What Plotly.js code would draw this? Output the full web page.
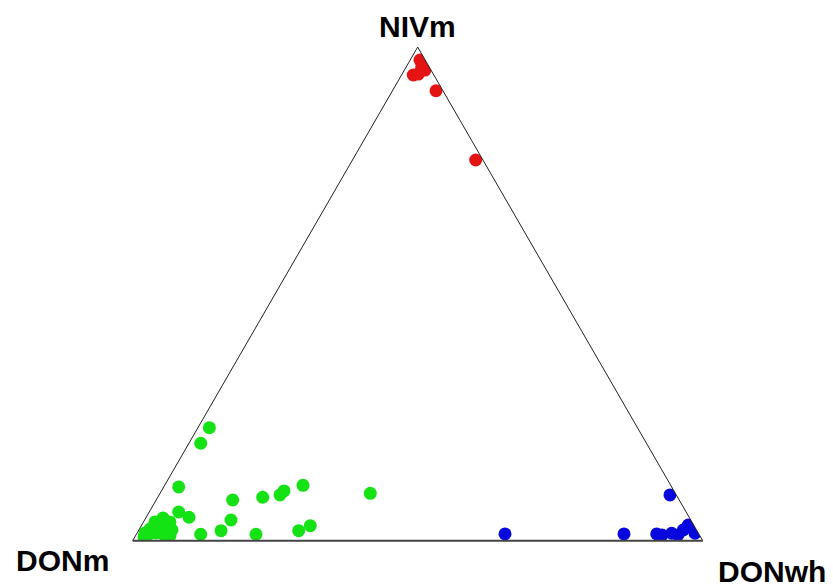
<!DOCTYPE html>
<html>
<head>
<meta charset="utf-8">
<script src="https://cdn.plot.ly/plotly-3.0.1.min.js"></script>
<style>html,body{margin:0;padding:0;background:#fff;}#chart{width:833px;height:587px;}</style>
</head>
<body>
<div id="chart"></div>
<script>
// Axis labels
var labelA = "NIVm";
var labelB = "DONm";
var labelC = "DONwh";

// Group 1 (green, DONm-rich): NIVm, DONm, DONwh fractions
var greenA = [0.2289,0.1973,0.1088,0.0824,0.0879,0.0926,0.1007,0.1122,0.0960,0.0581,0.0474,0.0419,0.0203,0.0130,0.0130,0.0203,0.0304,0.0115,0.0156,0.0115,0.0277,0.0217,0.0237,0.0075,0.0095,0.0460,0.0379,0.0379,0.0217,0.0156];
var greenB = [0.7511,0.7820,0.8649,0.7834,0.7280,0.6953,0.6842,0.6451,0.5352,0.8903,0.8775,0.8066,0.8349,0.8742,0.7772,0.6986,0.6732,0.9675,0.9513,0.9394,0.9418,0.9307,0.9578,0.9764,0.9299,0.9238,0.9157,0.9420,0.9202,0.9706];
var greenC = [0.0200,0.0207,0.0263,0.1342,0.1841,0.2121,0.2151,0.2427,0.3688,0.0516,0.0751,0.1515,0.1448,0.1128,0.2098,0.2811,0.2964,0.0210,0.0331,0.0491,0.0305,0.0476,0.0185,0.0161,0.0606,0.0302,0.0464,0.0201,0.0581,0.0138];

// Group 2 (blue, DONwh-rich)
var blueA = [0.0136,0.0136,0.0926,0.0136,0.0115,0.0150,0.0217,0.0318,0.0150,0.0115];
var blueB = [0.3400,0.1313,0.0111,0.0739,0.0657,0.0469,0.0231,0.0094,0.0060,0.0376];
var blueC = [0.6464,0.8551,0.8963,0.9125,0.9228,0.9381,0.9552,0.9588,0.9790,0.9509];

// Group 3 (red, NIVm-rich)
var redA = [0.9737,0.9601,0.9534,0.9433,0.9453,0.9115,0.7711];
var redB = [0.0091,0.0130,0.0105,0.0361,0.0263,0.0121,0.0127];
var redC = [0.0172,0.0269,0.0361,0.0206,0.0284,0.0764,0.2162];

function grp(a,b,c,color){
  return {type:'scatterternary', mode:'markers', a:a, b:b, c:c,
    marker:{color:color, size:13, line:{width:0}}, hoverinfo:'a+b+c', showlegend:false};
}

var data = [
  grp(greenA, greenB, greenC, '#14e214'),
  grp(blueA, blueB, blueC, '#0808de'),
  grp(redA, redB, redC, '#e41414')
];

var axisBase = {showgrid:false, showticklabels:false, ticks:'', title:{text:''}, min:0};

var layout = {
  width:833, height:587,
  margin:{l:0,r:0,t:0,b:0},
  paper_bgcolor:'#ffffff',
  showlegend:false,
  ternary:{
    sum:1,
    bgcolor:'#ffffff',
    domain:{x:[132.7/833, 702.7/833], y:[(587-540.7)/587, (587-47)/587]},
    aaxis:Object.assign({}, axisBase, {linecolor:'#222', linewidth:1}),
    baxis:Object.assign({}, axisBase, {linecolor:'#444', linewidth:2}),
    caxis:Object.assign({}, axisBase, {linecolor:'#222', linewidth:1})
  },
  font:{family:'Liberation Sans, Arial, sans-serif', color:'#000'},
  annotations:[
    {text:'<b>'+labelA+'</b>', xref:'paper', yref:'paper', x:417/833, y:1-26/587, xanchor:'center', yanchor:'middle', showarrow:false, font:{size:30, color:'#000'}},
    {text:'<b>'+labelB+'</b>', xref:'paper', yref:'paper', x:62.5/833, y:1-560/587, xanchor:'center', yanchor:'middle', showarrow:false, font:{size:30, color:'#000'}},
    {text:'<b>'+labelC+'</b>', xref:'paper', yref:'paper', x:772/833, y:1-571/587, xanchor:'center', yanchor:'middle', showarrow:false, font:{size:30, color:'#000'}}
  ]
};

Plotly.newPlot('chart', data, layout, {displayModeBar:false, staticPlot:true});
</script>
</body>
</html>
